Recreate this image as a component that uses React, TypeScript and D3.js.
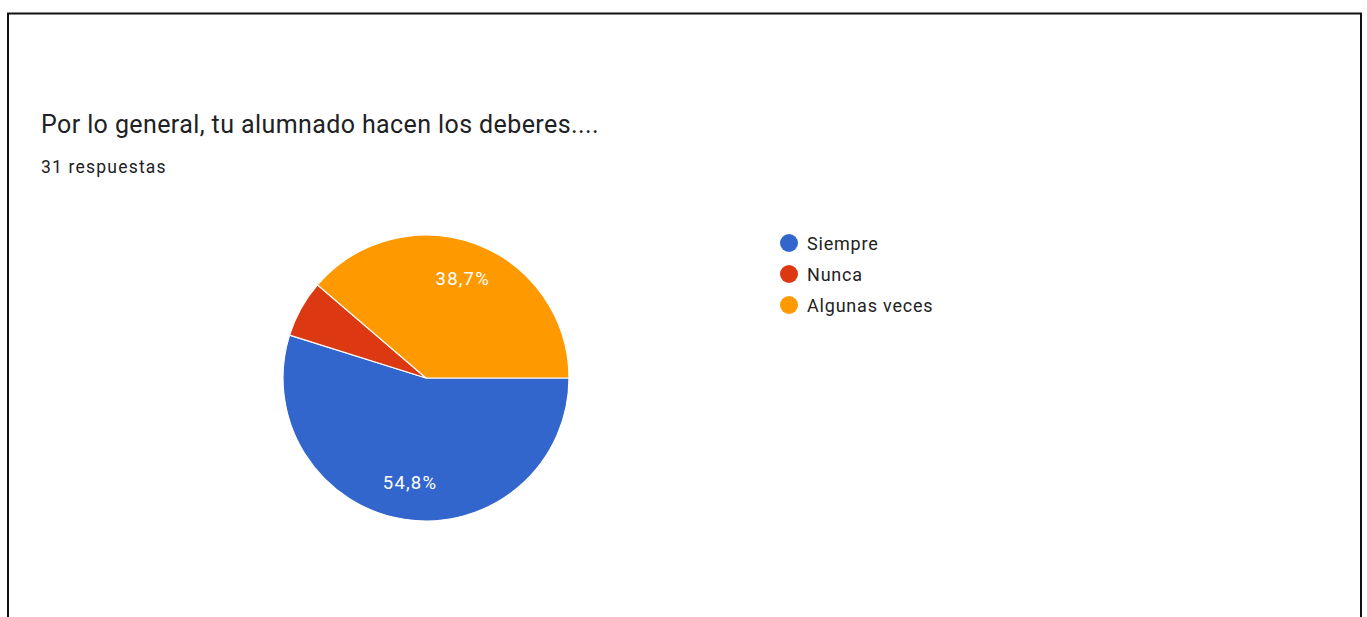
import * as d3 from "d3";
import { useEffect, useRef } from "react";

const CATEGORIES = ["Siempre", "Nunca", "Algunas veces"];
const COUNTS = [17, 2, 12];
const COLORS = ["#3366cc", "#dc3912", "#ff9900"];
const TITLE = "Por lo general, tu alumnado hacen los deberes....";
const SUBTITLE = "31 respuestas";

const W = 1367;
const H = 617;

export default function App() {
	const svgRef = useRef<SVGSVGElement>(null);

	useEffect(() => {
		if (!svgRef.current) return;
		const svg = d3.select(svgRef.current);
		svg.selectAll("*").remove();

		// frame
		svg.append("rect")
			.attr("x", 8)
			.attr("y", 13.5)
			.attr("width", 1353)
			.attr("height", H + 20)
			.attr("fill", "#fff")
			.attr("stroke", "#111")
			.attr("stroke-width", 2);

		svg.append("text")
			.attr("x", 41)
			.attr("y", 133)
			.attr("font-family", "Roboto, sans-serif")
			.attr("font-size", "25px")
			.attr("letter-spacing", "0.4px")
			.attr("fill", "#202124")
			.text(TITLE);

		svg.append("text")
			.attr("x", 41)
			.attr("y", 173)
			.attr("font-family", "Roboto, sans-serif")
			.attr("font-size", "17.5px")
			.attr("letter-spacing", "1.2px")
			.attr("fill", "#202124")
			.text(SUBTITLE);

		const total = d3.sum(COUNTS);
		const data = CATEGORIES.map((c, i) => ({ cat: c, value: COUNTS[i], color: COLORS[i] }));

		const pie = d3
			.pie<(typeof data)[number]>()
			.value((d) => d.value)
			.sort(null)
			.startAngle(Math.PI / 2)
			.endAngle(Math.PI / 2 + 2 * Math.PI);

		const r = 143;
		const arc = d3.arc<d3.PieArcDatum<(typeof data)[number]>>().innerRadius(0).outerRadius(r);
		const labelArc = d3
			.arc<d3.PieArcDatum<(typeof data)[number]>>()
			.innerRadius(r * 0.74)
			.outerRadius(r * 0.74);

		const g = svg.append("g").attr("transform", "translate(426,378)");
		const arcs = pie(data);

		g.selectAll("path")
			.data(arcs)
			.enter()
			.append("path")
			.attr("d", arc)
			.attr("fill", (d) => d.data.color)
			.attr("stroke", "#fff")
			.attr("stroke-width", 1.2);

		const fmt = (v: number) => ((v / total) * 100).toFixed(1).replace(".", ",") + "%";

		g.selectAll(".lbl")
			.data(arcs.filter((d) => d.data.value / total > 0.1))
			.enter()
			.append("text")
			.attr("class", "lbl")
			.attr("transform", (d) => {
				const [x, y] = labelArc.centroid(d);
				return `translate(${x},${y})`;
			})
			.attr("text-anchor", "middle")
			.attr("dominant-baseline", "central")
			.attr("font-family", "Roboto, sans-serif")
			.attr("font-size", "18.5px")
			.attr("letter-spacing", "1.2px")
			.attr("fill", "#fff")
			.text((d) => fmt(d.data.value));

		// legend
		const leg = svg.append("g").attr("transform", "translate(789,243)");
		const items = leg
			.selectAll("g")
			.data(data)
			.enter()
			.append("g")
			.attr("transform", (_, i) => `translate(0,${i * 31})`);
		items.append("circle").attr("r", 9).attr("fill", (d) => d.color);
		items
			.append("text")
			.attr("x", 18)
			.attr("dominant-baseline", "central")
			.attr("font-family", "Roboto, sans-serif")
			.attr("font-size", "18px")
			.attr("letter-spacing", "0.8px")
			.attr("fill", "#222")
			.text((d) => d.cat);
	}, []);

	return (
		<svg
			ref={svgRef}
			width={W}
			height={H}
			style={{ position: "absolute", left: 0, top: 0, background: "#fff" }}
		/>
	);
}
